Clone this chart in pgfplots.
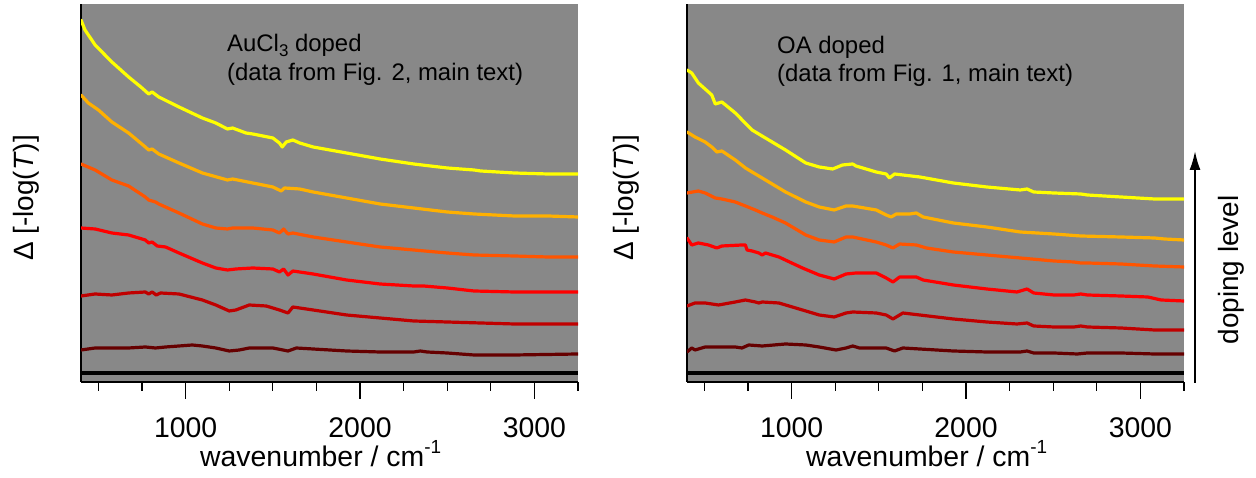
\documentclass[border=0pt]{standalone}
\usepackage{pgfplots}
\pgfplotsset{compat=1.18}
\usepackage{fontspec}
\setmainfont{Liberation Sans}
\usetikzlibrary{arrows.meta}
\definecolor{bg}{HTML}{888888}
\definecolor{cY}{HTML}{FFFF00}
\definecolor{cO}{HTML}{FFB000}
\definecolor{cDO}{HTML}{FF5500}
\definecolor{cR}{HTML}{FF0000}
\definecolor{cDR}{HTML}{C00000}
\definecolor{cM}{HTML}{660000}
\pgfplotsset{panel/.style={
  anchor=south west, scale only axis, width=497bp, height=378bp,
  xmin=400, xmax=3250, ymin=0, ymax=378,
  axis lines*=left, axis line style={line width=1.2bp, black},
  axis background/.style={fill=bg},
  xtick={1000,2000,3000}, xticklabels={1000,2000,3000},
  minor xtick={500,750,1250,1500,1750,2250,2500,2750,3250},
  ytick=\empty,
  tick align=outside, major tick length=17bp, minor tick length=9bp,
  every tick/.style={black, line width=1.2bp},
  xticklabel style={font=\fontsize{28.5}{30}\selectfont, anchor=base, yshift=-39bp},
}, curve/.style={line width=3.2bp, line join=round, line cap=round, no markers}}
\begin{document}
\begin{tikzpicture}[x=1bp,y=1bp]
\path[use as bounding box] (0,0) rectangle (1256,478);
\begin{axis}[panel, at={(81bp,96bp)}]
\addplot[curve, cM] coordinates {(400,32)(481,34)(673,34)(769,35)(827,34)(885,35)(1038,37)(1096,36)(1173,34)(1250,31)(1308,32)(1365,34)(1500,34)(1587,31)(1635,34)(1731,33)(1923,31)(2115,30)(2308,30)(2346,31)(2385,30)(2500,29)(2654,27)(2885,27)(3250,28)};
\addplot[curve, cDR] coordinates {(400,86)(481,88)(577,87)(673,89)(769,90)(788,88)(808,90)(831,87)(856,89)(962,88)(1096,82)(1173,77)(1250,71)(1288,72)(1365,77)(1462,76)(1538,72)(1587,69)(1615,75)(1731,72)(1923,67)(2115,64)(2308,61)(2500,60)(2692,59)(2885,58)(3250,58)};
\addplot[curve, cR] coordinates {(400,154)(481,153)(577,149)(673,147)(769,142)(788,139)(808,140)(837,136)(885,135)(962,129)(1096,119)(1173,114)(1240,112)(1288,113)(1385,114)(1500,113)(1538,110)(1562,113)(1587,107)(1615,111)(1731,108)(1923,102)(2115,98)(2308,96)(2365,96)(2500,94)(2654,91)(2885,90)(3250,90)};
\addplot[curve, cDO] coordinates {(400,218)(481,212)(577,202)(673,196)(769,185)(788,182)(827,180)(846,178)(962,169)(1096,158)(1173,154)(1240,153)(1269,154)(1385,154)(1500,152)(1538,149)(1562,153)(1587,148)(1615,149)(1731,145)(1923,140)(2115,135)(2308,132)(2500,129)(2654,127)(2885,126)(3077,125)(3250,125)};
\addplot[curve, cO] coordinates {(400,287)(442,279)(500,272)(577,260)(673,249)(769,235)(788,232)(808,233)(846,228)(962,219)(1096,209)(1240,202)(1269,203)(1385,199)(1500,195)(1548,191)(1567,194)(1654,193)(1731,190)(1923,184)(2115,178)(2308,174)(2500,170)(2654,168)(2885,166)(3077,166)(3250,165)};
\addplot[curve, cY] coordinates {(400,362)(423,352)(481,337)(577,320)(673,305)(750,294)(788,288)(808,290)(846,285)(962,275)(1096,264)(1173,259)(1240,253)(1269,254)(1346,249)(1385,248)(1500,244)(1538,239)(1554,235)(1577,240)(1615,242)(1654,239)(1731,235)(1923,229)(2115,223)(2308,218)(2500,214)(2654,212)(2692,211)(2885,209)(3077,208)(3250,208)};
\addplot[curve, black, line cap=butt] coordinates {(400,9)(3250,9)};
\end{axis}
\begin{axis}[panel, at={(687bp,96bp)}]
\addplot[curve, cM] coordinates {(400,30)(427,34)(446,32)(504,35)(581,35)(677,35)(715,34)(754,37)(831,36)(965,38)(1081,37)(1158,35)(1254,32)(1312,34)(1350,36)(1389,34)(1542,34)(1590,31)(1638,34)(1735,33)(1927,31)(2119,30)(2311,30)(2350,31)(2388,29)(2504,29)(2638,28)(2696,29)(2888,29)(3081,28)(3250,28)};
\addplot[curve, cDR] coordinates {(400,76)(446,79)(504,79)(581,77)(677,80)(735,82)(792,80)(812,79)(831,80)(927,79)(1062,72)(1158,67)(1244,65)(1312,69)(1350,70)(1485,69)(1542,67)(1581,63)(1638,69)(1735,67)(1927,63)(2119,60)(2292,58)(2350,59)(2388,56)(2504,55)(2619,55)(2658,56)(2696,55)(2888,54)(3081,52)(3250,52)};
\addplot[curve, cR] coordinates {(400,144)(427,137)(465,139)(523,137)(571,134)(600,136)(715,137)(735,137)(744,132)(773,131)(812,129)(831,127)(850,129)(927,125)(1062,114)(1158,107)(1244,103)(1312,108)(1369,109)(1485,109)(1542,104)(1581,100)(1619,105)(1715,105)(1754,102)(1927,97)(2119,93)(2292,90)(2350,93)(2388,89)(2504,87)(2619,87)(2658,88)(2696,87)(2888,86)(3042,85)(3119,82)(3250,81)};
\addplot[curve, cDO] coordinates {(400,189)(465,191)(504,189)(562,184)(600,183)(677,180)(735,176)(792,172)(831,169)(888,165)(965,159)(1081,147)(1158,142)(1244,140)(1312,145)(1350,145)(1485,140)(1542,137)(1581,134)(1619,138)(1715,137)(1773,134)(1927,130)(2119,127)(2311,124)(2504,121)(2619,120)(2658,119)(2696,119)(2888,118)(3081,116)(3250,115)};
\addplot[curve, cO] coordinates {(400,250)(446,245)(504,240)(542,235)(571,230)(600,231)(677,222)(735,214)(773,210)(831,204)(869,200)(965,190)(1081,180)(1158,175)(1244,172)(1312,176)(1350,176)(1485,172)(1542,167)(1571,165)(1600,168)(1677,168)(1715,169)(1754,165)(1927,159)(2119,155)(2311,150)(2504,148)(2658,146)(2888,145)(3081,144)(3138,143)(3250,142)};
\addplot[curve, cY] coordinates {(400,312)(427,309)(465,299)(523,290)(542,287)(562,278)(600,280)(677,269)(773,252)(840,245)(965,232)(1081,219)(1158,215)(1235,213)(1292,217)(1350,218)(1369,216)(1485,210)(1542,208)(1561,204)(1590,208)(1735,205)(1927,199)(2119,195)(2311,192)(2350,193)(2388,190)(2504,189)(2658,188)(2696,187)(2888,185)(3081,183)(3250,183)};
\addplot[curve, black, line cap=butt] coordinates {(400,9)(3250,9)};
\end{axis}
% labels
\node[anchor=base west, inner sep=0pt, font=\fontsize{28.5}{30}\selectfont] at (200,11) {wavenumber / cm\raisebox{13bp}{\fontsize{19}{19}\selectfont -1}};
\node[anchor=base west, inner sep=0pt, font=\fontsize{28.5}{30}\selectfont] at (806,11) {wavenumber / cm\raisebox{13bp}{\fontsize{19}{19}\selectfont -1}};
\node[rotate=90, anchor=base, inner sep=0pt, font=\fontsize{28}{30}\selectfont] at (33,280) {Δ [-log(\textit{T})]};
\node[rotate=90, anchor=base, inner sep=0pt, font=\fontsize{28}{30}\selectfont] at (633,280) {Δ [-log(\textit{T})]};
\node[rotate=90, anchor=base, inner sep=0pt, font=\fontsize{28}{30}\selectfont] at (1238,208) {doping level};
\draw[line width=2bp, -{Latex[length=19bp,width=11bp]}] (1195,95) -- (1195,327);
% annotations
\node[anchor=base west, inner sep=0pt, font=\fontsize{24}{27}\selectfont] at (227,426) {AuCl\raisebox{-5bp}{\fontsize{17}{17}\selectfont 3} doped};
\node[anchor=base west, inner sep=0pt, font=\fontsize{24}{27}\selectfont] at (227,397) {(data from Fig. 2, main text)};
\node[anchor=base west, inner sep=0pt, font=\fontsize{24}{27}\selectfont] at (777,424) {OA doped};
\node[anchor=base west, inner sep=0pt, font=\fontsize{24}{27}\selectfont] at (777,396) {(data from Fig. 1, main text)};
\end{tikzpicture}
\end{document}
